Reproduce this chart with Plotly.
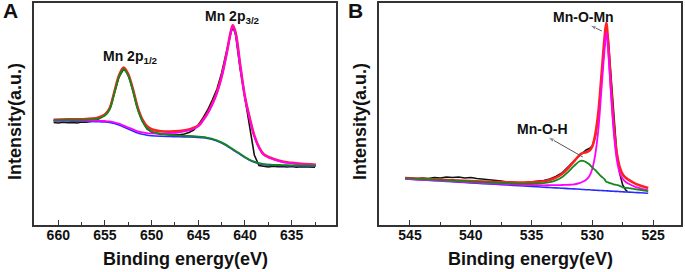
import plotly.graph_objects as go

# ---------------- Panel A : Mn 2p ----------------
a_energy = [660.5, 659, 658, 657, 656, 655.5, 655, 654.5, 654, 653.5, 653, 652.5, 652, 651.5,
            651, 650.5, 650, 649, 648, 647, 646, 645, 644.5, 644, 643.5, 643, 642.5, 642,
            641.5, 641.3, 641, 640.5, 640, 639.5, 639, 638.5, 638, 637, 636, 635, 634, 633, 632.4]
a_bg = [104, 104, 103.8, 103.6, 103.3, 103.2, 103, 102.5, 101.5, 100, 98, 96, 94, 92,
        90.8, 89.8, 89.3, 88.8, 88.5, 88.2, 88, 87.6, 87.2, 86.5, 85.5, 84, 82, 79.5,
        76.5, 75.2, 73.5, 70.5, 67.5, 64.8, 62.8, 61.3, 60.4, 59.8, 59.5, 59.3, 59.1, 59, 59]
a_p12 = [0.8, 1.0, 1.2, 1.6, 2.5, 4, 6.5, 13, 30, 48, 58, 53, 40, 24,
         13, 7, 4.2, 2.4, 1.6, 1.2, 1.0, 0.8, 0.8, 0.7, 0.7, 0.7, 0.6, 0.6,
         0.6, 0.6, 0.6, 0.5, 0.5, 0.5, 0.5, 0.5, 0.4, 0.4, 0.4, 0.3, 0.3, 0.3, 0.3]
a_p32 = [0.5, 0.6, 0.7, 0.8, 0.9, 1.0, 1.0, 1.1, 1.2, 1.3, 1.4, 1.5, 1.6, 1.7,
         1.9, 2.1, 2.3, 2.6, 3.3, 4.5, 6.5, 11, 17, 25, 35, 48, 66, 90,
         117, 124, 118, 88, 60, 42, 26, 16, 10, 6, 3.5, 2.5, 1.8, 1.3, 1.0]

a_raw_energy = [660.5, 660, 659.5, 659, 658.5, 658, 657.5, 657, 656.5, 656, 655.5, 655, 654.5,
                654, 653.5, 653, 652.5, 652, 651.5, 651, 650.5, 650, 649.5, 649, 648.5, 648,
                647.5, 647, 646.5, 646, 645.5, 645, 644.5, 644, 643.5, 643, 642.5, 642, 641.5,
                641.25, 641, 640.5, 640, 639.5, 639, 638.5, 638, 637.5, 637, 636.5, 636, 635.5,
                635, 634.5, 634, 633.5, 633, 632.5]
a_raw = [102.5, 102, 102.8, 102.2, 102.6, 102, 103, 102.8, 103.5, 104.5, 107, 110, 116,
         131, 148, 156, 151, 135, 117, 104, 96, 93, 91.5, 90.5, 91, 90,
         90.5, 90.2, 91, 92.5, 95, 100, 107, 115, 125, 136, 152, 172, 193,
         197.5, 190, 155, 127, 98, 70, 59.5, 58.5, 58, 58.8, 58.2, 58.6, 58,
         58.5, 57.8, 58.4, 58, 58.3, 57.8]

# ---------------- Panel B : O 1s ----------------
b_energy = [545.4, 544, 543, 542, 541, 540, 539, 538, 537, 536, 535, 534.5, 534, 533.5, 533,
            532.5, 532, 531.5, 531, 530.75, 530.5, 530.25, 530, 529.75, 529.5, 529.25, 529,
            528.85, 528.7, 528.5, 528.25, 528, 527.75, 527.5, 527.25, 527, 526.5, 526, 525.4]
b_bg = [46.0, 45.0, 44.3, 43.6, 42.9, 42.1, 41.4, 40.7, 40.0, 39.3, 38.6, 38.2, 37.8, 37.5, 37.1,
        36.8, 36.4, 36.1, 35.7, 35.5, 35.3, 35.2, 35.0, 34.8, 34.6, 34.5, 34.3,
        34.2, 34.1, 33.9, 33.7, 33.6, 33.4, 33.2, 33.0, 32.9, 32.5, 32.2, 31.7]
b_oh = [0.8, 0.9, 1.0, 1.1, 1.2, 1.3, 1.4, 1.6, 1.8, 2.1, 2.8, 3.3, 4.0, 5.3, 7.5,
        11, 16.5, 23, 28.3, 28.6, 27.5, 25.5, 22.5, 20, 17, 14, 11.5,
        9, 8.5, 7.8, 7.0, 6.4, 5.8, 4.5, 4.2, 4.0, 3.4, 2.8, 2.2]
b_omn = [0.2, 0.25, 0.3, 0.35, 0.4, 0.5, 0.6, 0.7, 0.9, 1.1, 1.4, 1.6, 1.9, 2.3, 2.7,
         3.2, 3.8, 4.6, 6.5, 8, 10, 13.5, 21, 36, 61, 100, 140,
         159, 141, 105, 62, 33, 19, 13, 10, 8.3, 5.8, 4.3, 3.0]

b_raw_energy = [545.4, 545, 544.5, 544, 543.5, 543, 542.5, 542, 541.5, 541, 540.5, 540, 539.5,
                539, 538.5, 538, 537.5, 537, 536.5, 536, 535.5, 535, 534.5, 534, 533.5, 533,
                532.5, 532, 531.5, 531, 530.75, 530.5, 530.25, 530, 529.75, 529.5, 529.25,
                529, 528.85, 528.7, 528.5, 528.25, 528, 527.75, 527.5, 527.25, 527.1]
b_raw = [46.5, 47, 46, 47, 46.5, 47.5, 47, 48, 47.5, 48, 47, 47.5, 46.5,
         46, 45.5, 44.5, 44, 43, 42.5, 42, 42.5, 43, 43.5, 44.5, 46, 48.5,
         52, 57.5, 64, 70, 73, 75, 76.5, 79, 88, 110, 146,
         182, 196, 188, 155, 110, 74, 52, 40, 35, 33.5]

# label arrows in panel B: (tail energy, tail intensity) -> (head energy, head intensity)
b_arrow_x = [[529.22, 530.21], [530.78, 533.66]]
b_arrow_y = [[194, 200], [68, 88]]

a_green = [b + p for b, p in zip(a_bg, a_p12)]
a_mag = [b + p for b, p in zip(a_bg, a_p32)]
a_red = [b + p + q for b, p, q in zip(a_bg, a_p12, a_p32)]
b_green = [b + p for b, p in zip(b_bg, b_oh)]
b_mag = [b + p for b, p in zip(b_bg, b_omn)]
b_red = [b + p + q for b, p, q in zip(b_bg, b_oh, b_omn)]

BLACK = "#111111"
RED = "#ff2020"
MAG = "#ff00ff"
GREEN = "#12891a"
BLUE = "#2a2aff"

fig = go.Figure()


def add_panel(xa, ya, e_fit, bg, green, mag, red, e_raw, raw):
    fig.add_trace(go.Scatter(x=e_raw, y=raw, mode="lines", line=dict(color=BLACK, width=1.6),
                             xaxis=xa, yaxis=ya, showlegend=False))
    fig.add_trace(go.Scatter(x=e_fit, y=red, mode="lines", line=dict(color=RED, width=2.6, shape="spline"),
                             xaxis=xa, yaxis=ya, showlegend=False))
    fig.add_trace(go.Scatter(x=e_fit, y=bg, mode="lines", line=dict(color=BLUE, width=1.6, shape="spline"),
                             xaxis=xa, yaxis=ya, showlegend=False))
    fig.add_trace(go.Scatter(x=e_fit, y=mag, mode="lines", line=dict(color=MAG, width=1.8, shape="spline"),
                             xaxis=xa, yaxis=ya, showlegend=False))
    fig.add_trace(go.Scatter(x=e_fit, y=green, mode="lines", line=dict(color=GREEN, width=1.8, shape="spline"),
                             xaxis=xa, yaxis=ya, showlegend=False))


add_panel("x", "y", a_energy, a_bg, a_green, a_mag, a_red, a_raw_energy, a_raw)
add_panel("x2", "y2", b_energy, b_bg, b_green, b_mag, b_red, b_raw_energy, b_raw)

for ax_, ay_ in zip(b_arrow_x, b_arrow_y):
    fig.add_trace(go.Scatter(x=ax_, y=ay_, mode="lines+markers", xaxis="x2", yaxis="y2",
                             line=dict(color="#555555", width=1),
                             marker=dict(symbol="arrow", size=[0, 7], angleref="previous",
                                         color="#555555"),
                             showlegend=False, hoverinfo="skip"))

W, H = 685, 272
FONT = "Liberation Sans, Arial, sans-serif"
LINE = "#333333"
ydom = [(H - 225) / H, (H - 3) / H]

xcommon = dict(showline=True, linecolor=LINE, linewidth=1.5, mirror=True, ticks="inside",
               ticklen=5, tickwidth=1.2, tickcolor=LINE, dtick=5, tick0=0,
               minor=dict(dtick=2.5, tick0=0, ticks="inside", ticklen=3, tickwidth=1, tickcolor=LINE),
               showgrid=False, zeroline=False, ticklabelstandoff=-4,
               tickfont=dict(family=FONT, size=14, color="#111111", weight="bold"))
ycommon = dict(showline=True, linecolor=LINE, linewidth=1.5, mirror=True, ticks="",
               showticklabels=False, showgrid=False, zeroline=False, range=[0, 222])

fig.update_layout(
    width=W, height=H, margin=dict(l=0, r=0, t=0, b=0),
    paper_bgcolor="white", plot_bgcolor="white",
    xaxis=dict(domain=[34 / W, 336 / W], range=[662.6, 630.25], anchor="y", **xcommon),
    yaxis=dict(domain=ydom, anchor="x", **ycommon),
    xaxis2=dict(domain=[379 / W, 681 / W], range=[547.55, 522.7], anchor="y2", **xcommon),
    yaxis2=dict(domain=ydom, anchor="x2", **ycommon),
)

tfont = dict(family=FONT, size=18, color="#111111", weight="bold")
afont = dict(family=FONT, size=14, color="#111111", weight="bold")
ann = []
# axis titles
for cx in (185 / W, 530 / W):
    ann.append(dict(text="Binding energy(eV)", x=cx, y=(H - 259) / H, xref="paper", yref="paper",
                    showarrow=False, font=tfont, xanchor="center", yanchor="middle"))
for cx in (15 / W, 360 / W):
    ann.append(dict(text="Intensity(a.u.)", x=cx, y=(H - 122) / H, xref="paper", yref="paper",
                    showarrow=False, font=tfont, textangle=-90, xanchor="center", yanchor="middle"))
# panel letters
ann.append(dict(text="A", x=10 / W, y=(H - 11) / H, xref="paper", yref="paper", showarrow=False,
                font=dict(family=FONT, size=21, color="#111111", weight="bold"),
                xanchor="center", yanchor="middle"))
ann.append(dict(text="B", x=355 / W, y=(H - 11) / H, xref="paper", yref="paper", showarrow=False,
                font=dict(family=FONT, size=21, color="#111111", weight="bold"),
                xanchor="center", yanchor="middle"))
# peak labels
ann.append(dict(text="Mn 2p<sub>1/2</sub>", x=652.3, y=168, xref="x", yref="y", showarrow=False,
                font=afont, xanchor="center", yanchor="middle"))
ann.append(dict(text="Mn 2p<sub>3/2</sub>", x=641.3, y=208, xref="x", yref="y", showarrow=False,
                font=afont, xanchor="center", yanchor="middle"))
ann.append(dict(text="Mn-O-Mn", x=530.7, y=208, xref="x2", yref="y2", showarrow=False,
                font=afont, xanchor="center", yanchor="middle"))
ann.append(dict(text="Mn-O-H", x=534.07, y=96, xref="x2", yref="y2", showarrow=False,
                font=afont, xanchor="center", yanchor="middle"))
fig.update_layout(annotations=ann)

fig.write_html("out.html", config={"displayModeBar": False},
               post_script="document.body.style.margin='0';document.body.style.padding='0';")
